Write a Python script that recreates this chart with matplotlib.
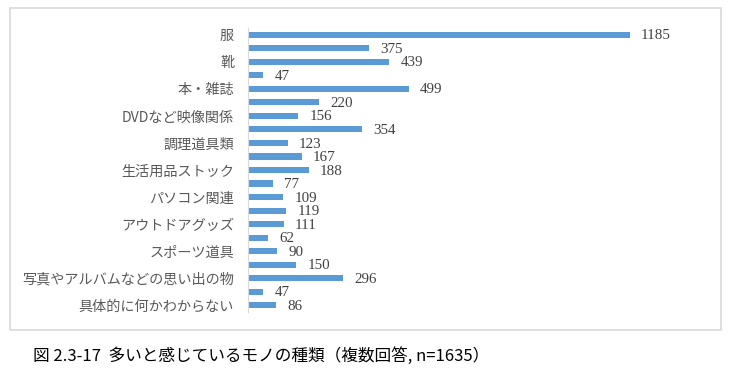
import matplotlib.pyplot as plt
from matplotlib.patches import Rectangle

plt.rcParams['font.family'] = ['Noto Sans CJK JP', 'DejaVu Sans']

# 21 bars, only every other label is shown in the original chart
categories = ['服', '', '靴', '', '本・雑誌', '', 'DVDなど映像関係', '', '調理道具類', '',
              '生活用品ストック', '', 'パソコン関連', '', 'アウトドアグッズ', '', 'スポーツ道具', '',
              '写真やアルバムなどの思い出の物', '', '具体的に何かわからない']
values = [1185, 375, 439, 47, 499, 220, 156, 354, 123, 167,
          188, 77, 109, 119, 111, 62, 90, 150, 296, 47, 86]
caption = '図 2.3-17  多いと感じているモノの種類（複数回答, n=1635）'

bar_color = '#5B9BD5'

fig = plt.figure(figsize=(7.33, 3.83), dpi=100)
ax = fig.add_axes([248/733, 1 - 312/383, (700-248)/733, (312-28)/383])

y = list(range(len(values)))
ax.barh(y, values, height=0.45, color=bar_color)
ax.set_ylim(len(values) - 0.5, -0.5)
ax.set_xlim(0, 1403)

ax.set_yticks(y)
ax.set_yticklabels(categories, fontsize=10.2, color='#595959')
ax.tick_params(axis='y', length=0, pad=10)
ax.set_xticks([])

for s in ['top', 'right', 'bottom']:
    ax.spines[s].set_visible(False)
ax.spines['left'].set_color('#D9D9D9')

for i, v in enumerate(values):
    ax.text(v + 35, i + 0.08, str(v), va='center', ha='left', fontsize=10.8,
            color='#404040', family=['Liberation Serif', 'DejaVu Serif'])

# outer chart frame
fig.patches.append(Rectangle((10/733, 1 - 330/383), 711/733, 322/383,
                             transform=fig.transFigure, fill=False,
                             edgecolor='#D9D9D9', linewidth=1.2))

fig.text(33/733, 1 - 356/383, caption, fontsize=12, va='center', ha='left',
         color='black')

plt.savefig('out.png', dpi=100)
